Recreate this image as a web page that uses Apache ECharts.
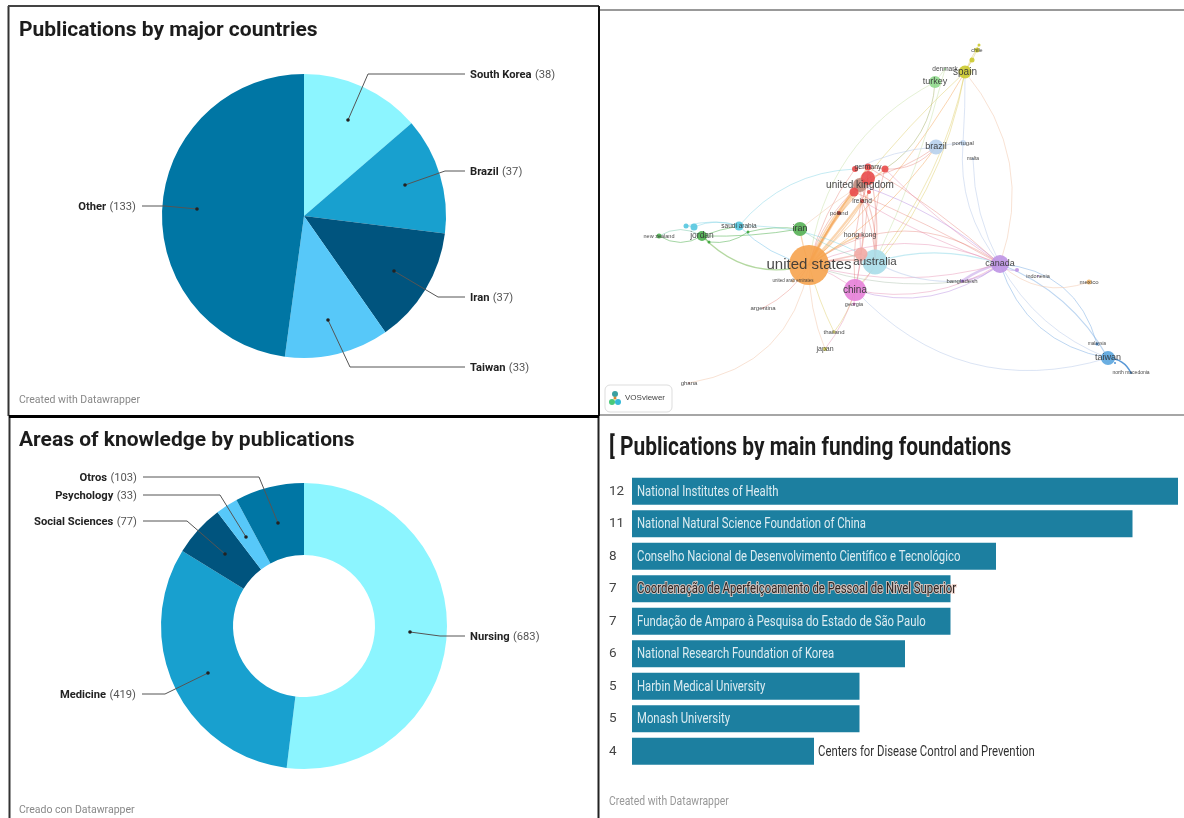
<!DOCTYPE html>
<html><head><meta charset="utf-8">
<style>html,body{margin:0;padding:0;background:#fff}#c{width:1184px;height:818px;filter:blur(.45px)}</style>
<script src="https://cdn.jsdelivr.net/npm/echarts@6/dist/echarts.min.js"></script>
</head><body><div id="c"></div>
<script>
// ---------- pie: publications by country
const countryNames = ['South Korea','Brazil','Iran','Taiwan','Other'];
const countryValues = [38,37,37,33,133];
// ---------- donut: areas of knowledge
const areaNames = ['Nursing','Medicine','Social Sciences','Psychology','Otros'];
const areaValues = [683,419,77,33,103];
// ---------- bars: funding foundations
const funderNames = ['National Institutes of Health','National Natural Science Foundation of China','Conselho Nacional de Desenvolvimento Científico e Tecnológico','Coordenação de Aperfeiçoamento de Pessoal de Nível Superior','Fundação de Amparo à Pesquisa do Estado de São Paulo','National Research Foundation of Korea','Harbin Medical University','Monash University','Centers for Disease Control and Prevention'];
const funderValues = [12,11,8,7,7,6,5,5,4];
// ---------- network: country co-authorship map (map units)
const netNames  = ['united states','australia','china','pinknode','iran','hong kong','jordan','new zealand','saudi arabia','cy1','cy2','gr1','gr2','united arab emirates','argentina','thailand','japan','ghana','georgia','ireland','united kingdom','r1','r2','germany','r3','r4','r5','poland','spain','chile','y1','y2','denmark','turkey','brazil','portugal','malta','canada','p1','bangladesh','indonesia','mexico','taiwan','malaysia','north macedonia','b1'];
const netLabels = ['united states','australia','china','','iran','hong kong','jordan','new zealand','saudi arabia','','','','','united arab emirates','argentina','thailand','japan','ghana','georgia','ireland','united kingdom','','','germany','','','','poland','spain','chile','','','denmark','turkey','brazil','portugal','malta','canada','','bangladesh','indonesia','mexico','taiwan','malaysia','north macedonia',''];
const netX = [209,275,255,261,200,260,102,59,139,86,94,148,109,193,163,234,225,89,254,262,260,268,254,268,285,255,269,239,365,377,372,379,345,335,336,363,373,400,417,362,438,489,508,497,531,515];
const netY = [255,252,280,244,219,225,226,226,216,216,217,222,232,271,298,322,339,373,294,191,175,168,182,157,159,159,182,203,62,40,50,35,59,72,137,133,149,254,260,271,266,272,348,334,363,353];
const netSize = [40,25,22,13,14,4,10,5,9,5,7,3,3,3,2,3,4,2,3,4,14,14,9,7,7,6,4,4,13,5,5,3,2,12,15,6,2,18,4,3,2,5,14,3,2,2];
const netColor = ['#F6A34E','#A9DDE9','#E680D8','#F2A9A3','#55B054','#E9A0A0','#4DAF4F','#4DAF4F','#55C7DF','#55C7DF','#55C7DF','#3BA53B','#3BA53B','#F3C59A','#D8A0A0','#E4DC70','#D7D254','#D8A0A0','#E680D8','#E84A4A','#BC8B7E','#E84A4A','#E84A4A','#E84A4A','#E84A4A','#E84A4A','#E84A4A','#A33','#CBC92C','#CBC92C','#CBC92C','#CBC92C','#8FD98C','#8FD98C','#B7D0EC','#C6DAF2','#A8C4E8','#BE94E4','#BE94E4','#A070D8','#BE94E4','#F3B86A','#5AA5DE','#3C86D0','#3C86D0','#3C86D0'];
const netFont = [15,11.5,10,0,9,7,8.5,5.5,6.5,0,0,0,0,4.5,6,6,7,6,5.5,6.5,10,0,0,7,0,0,0,6,10,5.5,0,0,6.5,9,9,6,5,9,0,6,5.5,6,9,4.5,5,0];
const PINK='rgba(228,130,170,.4)',RED='rgba(228,110,100,.36)',ORG='rgba(245,165,85,.45)',YEL='rgba(222,205,100,.45)',PUR='rgba(190,150,228,.5)',BLU='rgba(135,180,230,.55)',LBL='rgba(190,205,235,.55)',CYA='rgba(110,205,225,.4)',GRN='rgba(90,180,90,.55)',PGN='rgba(190,220,150,.4)',PPK='rgba(240,190,160,.45)';
const netLinks = [
['spain','canada',.28,PPK,1],['spain','united states',.08,ORG,1],['spain','australia',.12,YEL,1],['spain','china',.15,YEL,1],['spain','united kingdom',-.04,YEL,1],['spain','y1',0,YEL,1],['spain','y2',.05,YEL,1],['spain','chile',-.05,YEL,1],['spain','portugal',.02,LBL,1],
['turkey','united states',-.26,PGN,1],['turkey','r3',.25,'rgba(175,185,120,.55)',1],['denmark','australia',.05,PGN,1],['turkey','denmark',0,PGN,1],
['brazil','r3',.25,RED,1],['brazil','r1',.1,RED,1],['brazil','united states',.1,ORG,1],['brazil','r4',-.1,LBL,1],['brazil','portugal',.05,LBL,1],
['portugal','canada',-.2,LBL,1],['malta','canada',-.12,LBL,1],
['bangladesh','canada',.1,PUR,2.5],['bangladesh','canada',-.15,PUR,1.5],['united states','canada',.35,RED,1],['united states','canada',.22,PINK,1],['united states','canada',-.14,PINK,1],['china','canada',-.2,PINK,1],['china','canada',-.26,PUR,1],['united kingdom','canada',.1,PUR,1],['germany','canada',.05,RED,1],['r3','canada',-.05,PINK,1],['ireland','canada',-.05,PINK,1],['r2','canada',.03,RED,1],['australia','canada',.16,CYA,1.2],
['australia','bangladesh',-.15,LBL,1.2],['united states','bangladesh',-.12,'rgba(170,190,170,.45)',1],
['china','taiwan',-.31,LBL,1],['canada','taiwan',-.3,BLU,1],['canada','taiwan',-.18,LBL,1],['canada','taiwan',.18,BLU,1.2],['canada','malaysia',.35,BLU,1],['canada','mexico',-.3,PPK,1],['taiwan','north macedonia',.3,'rgba(70,140,210,.9)',1.5],['canada','p1',-.3,PUR,1],
['united states','united kingdom',.05,ORG,3],['united states','germany',.03,ORG,2],['united states','ireland',-.03,ORG,2.2],['united states','r2',.1,ORG,1.5],['united states','r3',.12,ORG,1.2],['united states','r5',-.08,ORG,1.2],['united states','hong kong',.05,ORG,1.8],['united states','iran',.05,ORG,1.3],['united states','poland',.04,ORG,1.6],['united states','australia',.1,RED,1.5],['united states','china',.1,PINK,1],['united states','pinknode',0,RED,1.5],
['united kingdom','australia',.15,RED,1.3],['germany','australia',.1,RED,1.2],['ireland','australia',.1,RED,1],['r3','australia',-.1,RED,1],['r1','china',-.1,RED,1],['united kingdom','china',.1,RED,1],['united kingdom','united states',-.15,RED,1],['r4','united states',-.1,RED,1],['r1','pinknode',.05,RED,1],['germany','ireland',.1,RED,1],['r4','r3',.1,RED,1],['r1','r2',.1,RED,1],
['hong kong','china',.08,PINK,1],['australia','china',.15,PINK,1],['china','georgia',0,PINK,1],
['united states','jordan',.3,'rgba(140,195,110,.65)',1.3],['jordan','iran',-.05,GRN,1],['new zealand','jordan',-.3,GRN,1],['new zealand','jordan',.3,'rgba(120,200,170,.5)',1],['jordan','saudi arabia',.05,GRN,1],['gr2','gr1',-.2,GRN,1],['jordan','gr2',.1,GRN,1],['gr1','iran',.1,GRN,1],
['cy2','saudi arabia',.2,CYA,1],['cy1','saudi arabia',.15,CYA,1],['cy1','cy2',0,CYA,1],['saudi arabia','australia',.15,CYA,1],['saudi arabia','united states',-.15,'rgba(130,200,235,.55)',1],['saudi arabia','r4',.22,CYA,1],['iran','australia',-.1,'rgba(130,200,180,.4)',1],['iran','united kingdom',.02,PPK,1],
['united states','ghana',.35,PPK,1],['united states','argentina',.15,RED,1],['united states','thailand',-.05,YEL,1],['united states','japan',-.1,PPK,1],['china','thailand',.1,YEL,1],['china','japan',.1,PINK,1],['united states','united arab emirates',0,PPK,1]
];
// ---------- leader-line routes (screen layout of the callouts, not data)
const countryLeaders = [[[348,120],[368,74],[465,74]],[[405,185],[445,171],[465,171]],[[394,271],[438,297],[465,297]],[[328,320],[350,367],[465,367]],[[197,209],[165,206],[142,206]]];
const areaLeaders = [[[410,632],[440,636],[465,636]],[[208,673],[165,694],[142,694]],[[225,554],[187,521],[143,521]],[[246,537],[220,495],[143,495]],[[278,523],[259,477],[143,477]]];
const sliceColors = ['#8CF5FF','#18A0CF','#00547E','#57C8F9','#0076A4'];
const areaColors = ['#8CF5FF','#18A0CF','#00547E','#57C8F9','#0076A4'];
const NARROW_SCALE = 0.81;

function pieSeries(names, values, colors, center, radius, leaders){
  return {type:'pie',center,radius,startAngle:90,silent:true,animation:false,
    data:names.map((n,i)=>({name:n,value:values[i],itemStyle:{color:colors[i]}})),
    label:{show:true,position:'outer',formatter:p=>`{n|${p.name}} {v|(${p.value})}`,
      rich:{n:{fontFamily:'Roboto',fontWeight:'bold',fontSize:11.2,color:'#222'},v:{fontFamily:'Roboto',fontSize:11.2,color:'#555'}}},
    labelLine:{show:false},
    labelLayout:p=>{const l=leaders[p.dataIndex];const e=l[l.length-1];const right=e[0]>304;
      return {x:right?e[0]+5:e[0]-6,y:e[1]+1,align:right?'left':'right',verticalAlign:'middle'};}
  };
}
const allLeaders = countryLeaders.concat(areaLeaders);
const dots = allLeaders.map(l=>({type:'circle',z:50,shape:{cx:l[0][0],cy:l[0][1],r:1.8},style:{fill:'#222'}}));
const leaderLines = allLeaders.map(l=>({type:'polyline',z:49,shape:{points:l},style:{stroke:'#555',lineWidth:1,fill:null}}));
const frame = (x1,y1,x2,y2,w,c)=>({type:'line',z:60,shape:{x1,y1,x2,y2},style:{stroke:c,lineWidth:w}});
const narrowText = (x,y,text,size,weight,fill,sx)=>({type:'text',z:45,x,y,scaleX:sx,style:{x:0,y:0,text,fontFamily:'Roboto',fontSize:size,fontWeight:weight,fill,verticalAlign:'middle'}});

const chart = echarts.init(document.getElementById('c'),null,{renderer:'canvas'});
chart.setOption({
  animation:false,backgroundColor:'#fff',
  title:[
    {text:'Publications by major countries',left:19,top:20,padding:0,textStyle:{fontFamily:'Roboto',fontWeight:'bold',fontSize:21,color:'#1c1c1c'}},
    {text:'Areas of knowledge by publications',left:19,top:430,padding:0,textStyle:{fontFamily:'Roboto',fontWeight:'bold',fontSize:21,color:'#1c1c1c'}},
    {text:'Created with Datawrapper',left:19,top:395,padding:0,textStyle:{fontFamily:'Roboto',fontWeight:'normal',fontSize:10.5,color:'#888'}},
    {text:'Creado con Datawrapper',left:19,top:805,padding:0,textStyle:{fontFamily:'Roboto',fontWeight:'normal',fontSize:10.5,color:'#888'}}
  ],
  grid:[
    {left:632,top:475,width:546,height:292.5},
    {left:600,top:10,width:584,height:405}
  ],
  xAxis:[
    {gridIndex:0,type:'value',min:0,max:12,show:false},
    {gridIndex:1,type:'value',min:0,max:584,show:false}
  ],
  yAxis:[
    {gridIndex:0,type:'category',inverse:true,data:funderNames,axisLine:{show:false},axisTick:{show:false},
      axisLabel:{align:'left',margin:23,padding:[2,0,0,0],fontFamily:'Roboto',fontSize:13.5,color:'#444',formatter:(v,i)=>String(funderValues[i])}},
    {gridIndex:1,type:'value',min:0,max:405,inverse:true,show:false}
  ],
  series:[
    pieSeries(countryNames,countryValues,sliceColors,[304,216],[0,142],countryLeaders),
    pieSeries(areaNames,areaValues,areaColors,[304,626],[71,143],areaLeaders),
    {type:'bar',xAxisIndex:0,yAxisIndex:0,barWidth:27,silent:true,itemStyle:{color:'#1C7FA0'},data:funderValues},
    {type:'custom',xAxisIndex:0,yAxisIndex:0,silent:true,clip:false,z:5,
      data:funderValues.map((v,i)=>[v,i]),
      renderItem:(params,api)=>{
        const i=params.dataIndex, outside=i===8;
        const p=api.coord([outside?api.value(0):0,i]);
        return {type:'text',x:p[0]+(outside?4:5),y:p[1]+1,scaleX:NARROW_SCALE,
          style:{x:0,y:0,text:funderNames[i],fontFamily:'Roboto',fontSize:14,verticalAlign:'middle',
            fill:i===3?'#2e2623':outside?'#333':'#DCECF1',
            stroke:i===3?'rgba(235,205,195,.85)':null,lineWidth:i===3?2.2:0,strokeFirst:i===3}};
      }},
    {type:'graph',coordinateSystem:'cartesian2d',xAxisIndex:1,yAxisIndex:1,silent:true,animation:false,
      data:netNames.map((n,i)=>({name:n,value:[netX[i],netY[i]],symbolSize:netSize[i],
        itemStyle:{color:netColor[i],opacity:.9},
        label:{show:!!netLabels[i],formatter:netLabels[i]||'',fontSize:netFont[i]||6}})),
      links:netLinks.map(l=>({source:l[0],target:l[1],lineStyle:{curveness:l[2],color:l[3],width:l[4],opacity:1}})),
      lineStyle:{opacity:1},
      label:{show:true,position:'inside',fontFamily:'"Liberation Sans",sans-serif',color:'#333'}
    }
  ],
  graphic:[
    ...leaderLines,...dots,
    narrowText(609,448,'[ Publications by main funding foundations',26,'bold','#1c1c1c',.805),
    narrowText(609,802,'Created with Datawrapper',13,'normal','#999',.8),
    frame(8.5,6,8.5,416,2,'#333'),frame(9.5,416,9.5,818,2,'#333'),frame(8,6,599,6,2,'#444'),
    frame(599,6,599,416,2,'#111'),frame(598.5,416,598.5,818,2,'#222'),
    frame(9,416.5,599,416.5,3,'#000'),frame(600,10,1184,10,1.5,'#777'),frame(600,415,1184,415,1.5,'#888'),
    {type:'rect',z:40,shape:{x:605,y:385,width:67,height:27,r:5},style:{fill:'#fff',stroke:'#ddd',lineWidth:1}},
    {type:'text',z:41,style:{x:625,y:398,text:'VOSviewer',fontFamily:'"Liberation Sans",sans-serif',fontSize:8,fill:'#444',verticalAlign:'middle'}},
    {type:'circle',z:41,shape:{cx:615,cy:394,r:3},style:{fill:'#3aa0a0'}},
    {type:'circle',z:41,shape:{cx:612,cy:402,r:3},style:{fill:'#49c97a'}},
    {type:'circle',z:41,shape:{cx:618,cy:402,r:3},style:{fill:'#35b9d8'}},
    {type:'circle',z:41,shape:{cx:615,cy:398,r:1.5},style:{fill:'#d98a2e'}}
  ]
});
</script></body></html>
